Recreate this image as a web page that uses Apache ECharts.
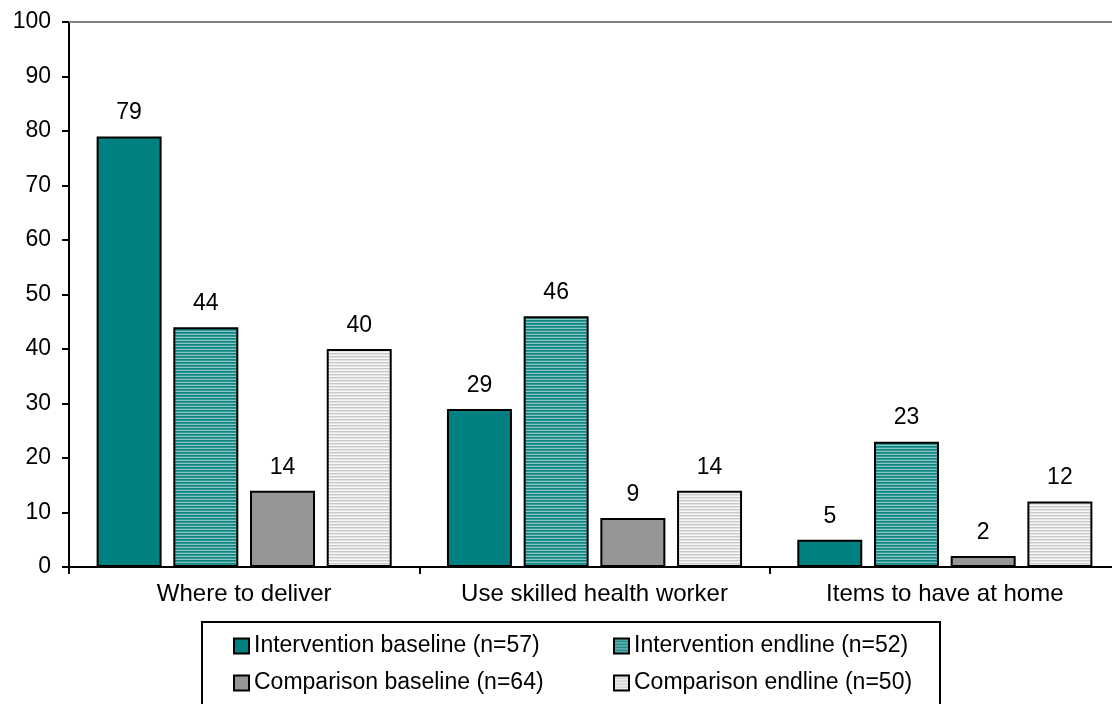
<!DOCTYPE html>
<html>
<head>
<meta charset="utf-8">
<script src="https://cdn.jsdelivr.net/npm/echarts@6/dist/echarts.min.js"></script>
<style>
html,body{margin:0;padding:0;background:#fff;}
#chart{width:1112px;height:704px;}
</style>
</head>
<body>
<div id="chart"></div>
<script>
var categories = ['Where to deliver', 'Use skilled health worker', 'Items to have at home'];
var seriesNames = ['Intervention baseline (n=57)', 'Intervention endline (n=52)', 'Comparison baseline (n=64)', 'Comparison endline (n=50)'];
var interventionBaseline = [79, 29, 5];
var interventionEndline = [44, 46, 23];
var comparisonBaseline = [14, 9, 2];
var comparisonEndline = [40, 14, 12];
var yTicks = [0, 10, 20, 30, 40, 50, 60, 70, 80, 90, 100];

function stripes(rows) {
  var c = document.createElement('canvas');
  c.width = 4; c.height = rows.length;
  var ctx = c.getContext('2d');
  rows.forEach(function (col, i) { ctx.fillStyle = col; ctx.fillRect(0, i, 4, 1); });
  return { image: c, repeat: 'repeat' };
}
var tealStripe = stripes(['#2f9795', '#8ac6c4', '#12857f']);
var grayStripe = stripes(['#e4e4e4', '#f6f6f6', '#c9c9c9']);

var fills = ['#008080', tealStripe, '#969696', grayStripe];
var values = [interventionBaseline, interventionEndline, comparisonBaseline, comparisonEndline];
var FONT = 'Liberation Sans, Arial, sans-serif';

var series = seriesNames.map(function (name, i) {
  var s = {
    name: name,
    type: 'bar',
    data: values[i],
    barWidth: 65,
    barGap: '18%',
    itemStyle: { color: fills[i], borderColor: '#000', borderWidth: 2 },
    label: { show: true, position: 'top', distance: 12, color: '#000', fontSize: 23, fontFamily: FONT },
    emphasis: { disabled: true }
  };
  if (i === 0) {
    s.markLine = {
      silent: true, symbol: 'none', label: { show: false },
      lineStyle: { color: '#808080', width: 2, type: 'solid' },
      data: [{ yAxis: yTicks[yTicks.length - 1] }]
    };
  }
  return s;
});

var legendPos = [[233, 634], [613, 634], [233, 671], [613, 671]];
var legends = seriesNames.map(function (name, i) {
  return {
    left: legendPos[i][0], top: legendPos[i][1],
    data: [name], itemWidth: 15, itemHeight: 15, itemGap: 0, padding: 0,
    icon: 'rect',
    selectedMode: false,
    textStyle: { fontSize: 23, lineHeight: 24, fontFamily: FONT, color: '#000' }
  };
});

var chart = echarts.init(document.getElementById('chart'), null, { renderer: 'canvas' });
chart.setOption({
  animation: false,
  backgroundColor: '#fff',
  grid: { left: 69, top: 22, width: 1051, height: 545, containLabel: false, outerBoundsMode: 'none' },
  legend: legends,
  xAxis: {
    type: 'category', data: categories,
    axisLine: { lineStyle: { color: '#000', width: 2 } },
    axisTick: { show: true, length: 7, lineStyle: { color: '#000', width: 2 } },
    axisLabel: { color: '#000', fontSize: 24, fontFamily: FONT, margin: 15 }
  },
  yAxis: {
    type: 'value', min: 0, max: 100, interval: 10,
    axisLine: { show: true, lineStyle: { color: '#000', width: 2 } },
    axisTick: { show: true, length: 7, lineStyle: { color: '#000', width: 2 } },
    axisLabel: { color: '#000', fontSize: 23, fontFamily: FONT, margin: 18 },
    splitLine: { show: false }
  },
  graphic: [{
    type: 'rect', shape: { x: 202, y: 622, width: 738, height: 90 },
    style: { fill: 'none', stroke: '#000', lineWidth: 2 }, z: 0
  }],
  series: series
});
</script>
</body>
</html>
